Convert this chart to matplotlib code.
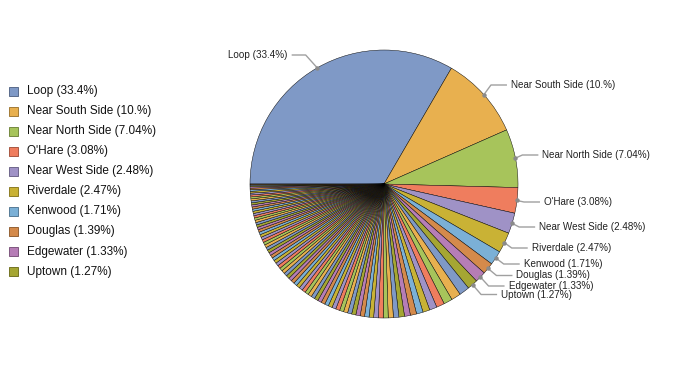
import numpy as np
import matplotlib
matplotlib.use("Agg")
import matplotlib.pyplot as plt
from matplotlib.patches import Rectangle
from matplotlib.colors import to_rgb

plt.rcParams['font.family'] = ['Liberation Sans', 'DejaVu Sans']

# ---- data ----
names = ['Loop', 'Near South Side', 'Near North Side', "O'Hare", 'Near West Side',
         'Riverdale', 'Kenwood', 'Douglas', 'Edgewater', 'Uptown']
top_values = [33.4, 10.0, 7.04, 3.08, 2.48, 2.47, 1.71, 1.39, 1.33, 1.27]
pct_text = ['33.4', '10.', '7.04', '3.08', '2.48', '2.47', '1.71', '1.39', '1.33', '1.27']
other_values = [
    1.24, 1.15, 1.05, 0.97, 0.90, 0.84, 0.79, 0.75, 0.71, 0.68,
    0.65, 0.62, 0.60, 0.58, 0.56, 0.55,
    0.54, 0.53, 0.52, 0.51, 0.50, 0.50, 0.49, 0.49, 0.48, 0.48,
    0.47, 0.47, 0.46, 0.46, 0.45, 0.45, 0.44, 0.44, 0.43, 0.43,
    0.42, 0.42, 0.41, 0.41, 0.40, 0.40, 0.39, 0.39, 0.38, 0.38,
    0.37, 0.37, 0.36, 0.36, 0.35, 0.35, 0.34, 0.34, 0.33, 0.33,
    0.32, 0.31, 0.30, 0.30, 0.29, 0.29, 0.28, 0.28, 0.27, 0.27,
    0.26, 0.26, 0.25, 0.25, 0.24, 0.24, 0.23, 0.23, 0.22, 0.22,
    0.20, 0.18, 0.16, 0.13, 0.11, 0.09,
]

# ---- style / layout ----
palette = ['#7F99C6', '#E8B04F', '#A7C45B', '#EF7D5E', '#9F92C6',
           '#C9B235', '#7BB0D6', '#D48A4B', '#B67DB6', '#A5A633']
W, H = 686, 378
cx, cy_top, r = 384, 184, 134
label_y_top = [55, 85, 155, 202, 227, 248, 264, 275.5, 286, 294.5]
text_radius = 161

values = top_values + other_values
colors = [palette[i % len(palette)] for i in range(len(values))]

fig = plt.figure(figsize=(W / 100, H / 100), dpi=100)
ax = fig.add_axes([0, 0, 1, 1])
cy = H - cy_top
wedges, _ = ax.pie(values, colors=colors, startangle=180, counterclock=False,
                   center=(cx, cy), radius=r,
                   wedgeprops=dict(edgecolor='#000000', linewidth=0.32))
ax.set_xlim(0, W)
ax.set_ylim(0, H)
ax.set_aspect('equal')
ax.axis('off')

# data labels with connectors
for i, name in enumerate(names):
    w = wedges[i]
    mid = np.deg2rad((w.theta1 + w.theta2) / 2)
    dx_, dy_ = np.cos(mid), np.sin(mid)
    px, py = cx + r * dx_, cy + r * dy_
    ly = H - label_y_top[i]
    dyl = ly - cy
    half = np.sqrt(max(text_radius ** 2 - dyl ** 2, 0))
    label = f"{name} ({pct_text[i]}%)"
    if dx_ >= 0:
        tx = cx + half
        xs = [px, tx - 20, tx - 4]
        ha = 'left'
    else:
        tx = cx - half
        xs = [px, tx + 18, tx + 4]
        ha = 'right'
    ax.plot(xs, [py, ly, ly], color='#a0a0a0', lw=1.0, solid_capstyle='butt', zorder=3)
    ax.plot([px], [py], 'o', ms=3.2, color='#8a8a8a', mec='none', zorder=4)
    ax.text(tx, ly, label, ha=ha, va='center', fontsize=7.1, color='#222222')

# legend
leg_y0, leg_dy = 91, 20.07
for i, name in enumerate(names):
    yy = H - (leg_y0 + i * leg_dy)
    edge = tuple(c * 0.7 for c in to_rgb(palette[i]))
    ax.add_patch(Rectangle((8.5, yy - 4.5), 9, 9, facecolor=palette[i],
                           edgecolor=edge, lw=0.7))
    ax.text(27, yy, f"{name} ({pct_text[i]}%)", ha='left', va='center',
            fontsize=8.5, color='#111111')

fig.savefig('out.png', dpi=100)
